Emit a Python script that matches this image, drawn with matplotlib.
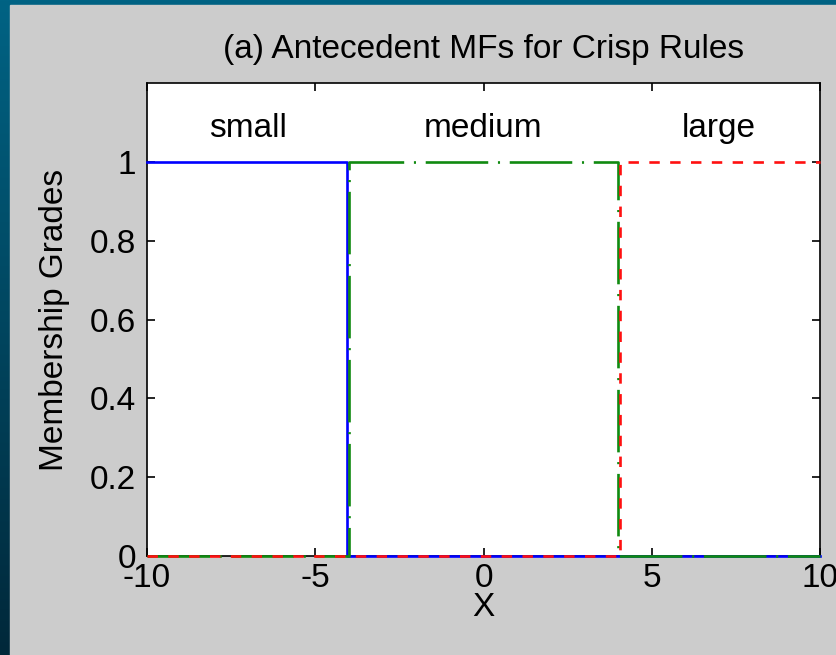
import numpy as np
import matplotlib
matplotlib.use('Agg')
import matplotlib.pyplot as plt
from matplotlib.patches import Rectangle

# Data
x_small = [-10, -4.05, -4.05, 10]
y_small = [1, 1, 0, 0]
x_medium = [-10, -4, -4, 4, 4, 10]
y_medium = [0, 0, 1, 1, 0, 0]
x_large = [-10, 4.05, 4.05, 10]
y_large = [0, 0, 1, 1]

mf_names = ['small', 'medium', 'large']
name_x = [-7, 0, 7]
name_y = 1.085

xticks = [-10, -5, 0, 5, 10]
yticks = [0, 0.2, 0.4, 0.6, 0.8, 1]
ytick_labels = ['0', '0.2', '0.4', '0.6', '0.8', '1']

plt.rcParams['font.family'] = ['Liberation Sans', 'DejaVu Sans']
plt.rcParams['font.size'] = 24
plt.rcParams['lines.scale_dashes'] = False
plt.rcParams['axes.unicode_minus'] = False


# Function to draw the blue frame and grey panel behind the plot
def drawBackground(fig):
    bg = fig.add_axes([0, 0, 1, 1], zorder=-10)
    grad = np.linspace(0, 1, 256).reshape(-1, 1)
    top = np.array([0, 99, 132]) / 255
    bot = np.array([0, 40, 58]) / 255
    img = top + (bot - top) * grad[:, :, None]
    bg.imshow(img, extent=[0, 1, 0, 1], aspect='auto', origin='upper')
    bg.add_patch(Rectangle((10 / 836, 0), 1, 650 / 655, color='#cccccc'))
    bg.set_xlim(0, 1)
    bg.set_ylim(0, 1)
    bg.axis('off')


# Function to plot the membership functions
def plotMFs():
    fig = plt.figure(figsize=(8.36, 6.55), dpi=100)
    drawBackground(fig)
    ax = fig.add_axes([147 / 836, 99 / 655, 673 / 836, 473 / 655])
    ax.set_facecolor('white')

    # lines sit on the bottom spine, so let them draw over it
    ax.plot(x_small, y_small, color='#0000ff', lw=1.9, clip_on=False, zorder=3)
    ax.plot(x_medium, y_medium, color='#108a10', lw=1.9, dashes=[45, 7, 1.5, 7],
            clip_on=False, zorder=3)
    ax.plot(x_large, y_large, color='#ff1010', lw=1.9, dashes=[7.5, 7.5],
            clip_on=False, zorder=3)

    for name, xx in zip(mf_names, name_x):
        ax.text(xx, name_y, name, ha='center', va='center', fontsize=24)

    ax.set_xlim(-10, 10)
    ax.set_ylim(0, 1.2)
    ax.set_xticks(xticks)
    ax.set_yticks(yticks)
    ax.set_yticklabels(ytick_labels)
    ax.tick_params(direction='in', length=6, width=1.2, top=True, right=True)
    ax.tick_params(axis='x', pad=5)
    ax.tick_params(axis='y', pad=8)
    for sp in ax.spines.values():
        sp.set_linewidth(1.2)

    ax.set_title('(a) Antecedent MFs for Crisp Rules', fontsize=24, pad=18)
    ax.set_xlabel('X')
    ax.set_ylabel('Membership Grades')
    ax.xaxis.set_label_coords(0.5, -0.076)
    ax.yaxis.set_label_coords(-0.114, 0.5)

    fig.savefig('out.png', dpi=100)


if __name__ == '__main__':
    plotMFs()
